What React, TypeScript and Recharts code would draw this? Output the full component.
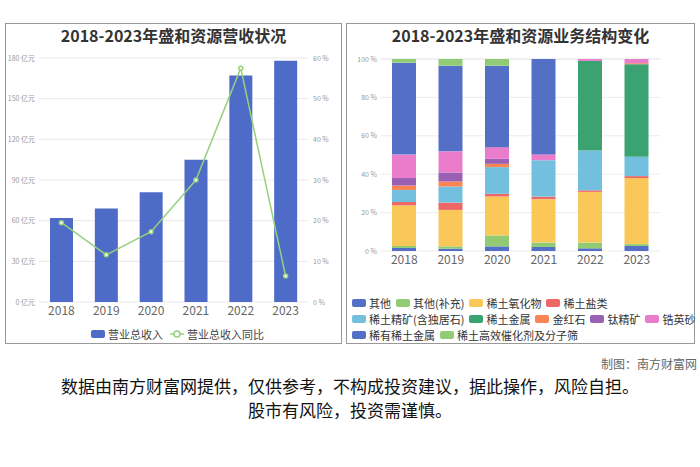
import React from 'react';
import { ComposedChart, BarChart, Bar, Line, XAxis, YAxis, CartesianGrid } from 'recharts';

const years = ['2018', '2019', '2020', '2021', '2022', '2023'];

// left chart: revenue (亿元) and yoy growth (%)
const revenue = [62, 69, 81, 105, 167, 178];
const revenueYoy = [19.5, 11.6, 17.3, 30, 57.5, 6.4];
const revenueTicks = [0, 30, 60, 90, 120, 150, 180];
const yoyTicks = [0, 10, 20, 30, 40, 50, 60];

// right chart: business structure, share of revenue (%) per year
const rareMetal = [1.6, 1.2, 2.4, 2.1, 1.4, 2.6];
const catalyst = [1.0, 1.2, 5.7, 2.3, 3.0, 1.0];
const oxide = [21.2, 19.0, 20.3, 22.6, 26.4, 34.4];
const salt = [1.7, 3.8, 1.4, 1.2, 0.8, 1.0];
const concentrate = [6.3, 8.4, 13.9, 19.1, 20.7, 10.1];
const reMetal = [0, 0, 0, 0, 46.7, 48.2];
const rutile = [2.3, 2.6, 1.7, 0, 0, 0.5];
const ilmenite = [3.9, 4.7, 2.6, 0, 0, 0];
const zircon = [12.2, 11.0, 6.1, 3.0, 1.0, 2.2];
const other = [47.9, 44.6, 42.4, 49.7, 0, 0];
const otherExtra = [1.9, 3.5, 3.5, 0, 0, 0];
const shareTicks = [0, 20, 40, 60, 80, 100];

// stacked bottom -> top
const segments = [
  { key: 'rareMetal', name: '稀有稀土金属', color: '#5470c6', values: rareMetal },
  { key: 'catalyst', name: '稀土高效催化剂及分子筛', color: '#91cc75', values: catalyst },
  { key: 'oxide', name: '稀土氧化物', color: '#fac858', values: oxide },
  { key: 'salt', name: '稀土盐类', color: '#ee6666', values: salt },
  { key: 'concentrate', name: '稀土精矿(含独居石)', color: '#73c0de', values: concentrate },
  { key: 'reMetal', name: '稀土金属', color: '#3ba272', values: reMetal },
  { key: 'rutile', name: '金红石', color: '#fc8452', values: rutile },
  { key: 'ilmenite', name: '钛精矿', color: '#9a60b4', values: ilmenite },
  { key: 'zircon', name: '锆英砂', color: '#ea7ccc', values: zircon },
  { key: 'other', name: '其他', color: '#5470c6', values: other },
  { key: 'otherExtra', name: '其他(补充)', color: '#91cc75', values: otherExtra },
];
const legendRows = [[9, 10, 2, 3], [4, 5, 6, 7, 8], [0, 1]];

const revenueData = years.map((year, i) => ({ year, revenue: revenue[i], yoy: revenueYoy[i] }));
const shareData = years.map((year, i) => {
  const row: Record<string, number | string> = { year };
  segments.forEach((s) => { row[s.key] = s.values[i]; });
  return row;
});

const FONT = '"Noto Sans CJK SC", "Noto Sans", sans-serif';
const BAR_BLUE = '#4e6bc8';
const LINE_GREEN = '#96d07c';

const panel: React.CSSProperties = {
  position: 'absolute', top: 23, height: 321, border: '1px solid #999', boxSizing: 'border-box',
};
const title: React.CSSProperties = {
  position: 'absolute', top: 0, left: 0, right: 0, textAlign: 'center', fontSize: 16,
  fontWeight: 700, color: '#333', lineHeight: '22px',
};

// small y tick that never wraps
const smallTick = (unit: string, anchor: 'start' | 'end') => (props: any) => (
  <text x={props.x} y={props.y} dy={2.5} textAnchor={anchor} fontSize={7} fill="#999">
    {`${props.payload.value} ${unit}`}
  </text>
);

const App: React.FC = () => {
  return (
    <div style={{ position: 'absolute', left: 0, top: 0, width: 700, height: 467, background: '#fff', fontFamily: FONT }}>
      {/* left panel */}
      <div style={{ ...panel, left: 5, width: 337 }}>
        <div style={title}>2018-2023年盛和资源营收状况</div>
      </div>
      <div style={{ position: 'absolute', left: 5, top: 45 }}>
        <ComposedChart width={337} height={298} data={revenueData} margin={{ top: 13, right: 0, bottom: 19, left: 0 }}>
          <CartesianGrid vertical={false} stroke="#e8e8e8" />
          <XAxis xAxisId="edge" type="number" domain={[0, 6]} ticks={[0, 1, 2, 3, 4, 5, 6]} allowDataOverflow
            tick={false} height={0} axisLine={{ stroke: '#777' }} tickLine={{ stroke: '#777' }} tickSize={4} />
          <XAxis dataKey="year" axisLine={false} tickLine={false} height={22} tickSize={0} tickMargin={4}
            tick={{ fontSize: 12, fill: '#666' }} />
          <YAxis width={34} domain={[0, 180]} ticks={revenueTicks} axisLine={false} tickLine={false}
            tickSize={0} tickMargin={4} tick={smallTick('亿元', 'end')} />
          <YAxis yAxisId="r" orientation="right" width={34} domain={[0, 60]} ticks={yoyTicks} axisLine={false}
            tickLine={false} tickSize={0} tickMargin={5} tick={smallTick('%', 'start')} />
          <Bar dataKey="revenue" name="营业总收入" fill={BAR_BLUE} barSize={23} isAnimationActive={false} />
          <Line yAxisId="r" dataKey="yoy" name="营业总收入同比" stroke={LINE_GREEN} strokeWidth={1.5}
            dot={{ r: 2, fill: '#fff', stroke: LINE_GREEN, strokeWidth: 1.5 }} isAnimationActive={false} />
        </ComposedChart>
      </div>
      <div style={{ position: 'absolute', left: 91, top: 326, display: 'flex', alignItems: 'center', fontSize: 11, color: '#444', lineHeight: '16px' }}>
        <span style={{ width: 14, height: 8, borderRadius: 2, background: BAR_BLUE, marginRight: 3 }} />
        <span style={{ marginRight: 7 }}>营业总收入</span>
        <svg width={14} height={10} style={{ marginRight: 3 }}>
          <line x1={0} y1={5} x2={14} y2={5} stroke={LINE_GREEN} strokeWidth={1.5} />
          <circle cx={7} cy={5} r={3} fill="#fff" stroke={LINE_GREEN} strokeWidth={1.5} />
        </svg>
        <span>营业总收入同比</span>
      </div>

      {/* right panel */}
      <div style={{ ...panel, left: 346, width: 349 }}>
        <div style={title}>2018-2023年盛和资源业务结构变化</div>
      </div>
      <div style={{ position: 'absolute', left: 346, top: 45 }}>
        <BarChart width={349} height={228} data={shareData} margin={{ top: 14, right: 35, bottom: 0, left: 0 }}>
          <CartesianGrid vertical={false} stroke="#ececec" />
          <XAxis xAxisId="edge" type="number" domain={[0, 6]} ticks={[0, 1, 2, 3, 4, 5, 6]} allowDataOverflow
            tick={false} height={0} axisLine={{ stroke: '#777' }} tickLine={{ stroke: '#777' }} tickSize={4} />
          <XAxis dataKey="year" axisLine={false} tickLine={false} height={22} tickSize={0} tickMargin={4}
            tick={{ fontSize: 12, fill: '#666' }} />
          <YAxis width={35} domain={[0, 100]} ticks={shareTicks} axisLine={false} tickLine={false}
            tickSize={0} tickMargin={4} tick={smallTick('%', 'end')} />
          {segments.map((s) => (
            <Bar key={s.key} dataKey={s.key} name={s.name} stackId="a" fill={s.color} barSize={24} isAnimationActive={false} />
          ))}
        </BarChart>
      </div>
      <div style={{ position: 'absolute', left: 352, top: 295, fontSize: 11, color: '#333', lineHeight: '16px' }}>
        {legendRows.map((row, r) => (
          <div key={r} style={{ display: 'flex', alignItems: 'center', whiteSpace: 'nowrap' }}>
            {row.map((idx) => (
              <span key={idx} style={{ display: 'flex', alignItems: 'center', marginRight: 5 }}>
                <span style={{ width: 14, height: 8, borderRadius: 2, background: segments[idx].color, marginRight: 3 }} />
                {segments[idx].name}
              </span>
            ))}
          </div>
        ))}
      </div>

      {/* footer */}
      <div style={{ position: 'absolute', right: 3, top: 355, fontSize: 12, color: '#666' }}>制图：南方财富网</div>
      <div style={{ position: 'absolute', left: 0, width: 700, top: 374, textAlign: 'center', fontSize: 17, lineHeight: '24px', color: '#111' }}>
        <div>数据由南方财富网提供，仅供参考，不构成投资建议，据此操作，风险自担。</div>
        <div>股市有风险，投资需谨慎。</div>
      </div>
    </div>
  );
};

export default App;
